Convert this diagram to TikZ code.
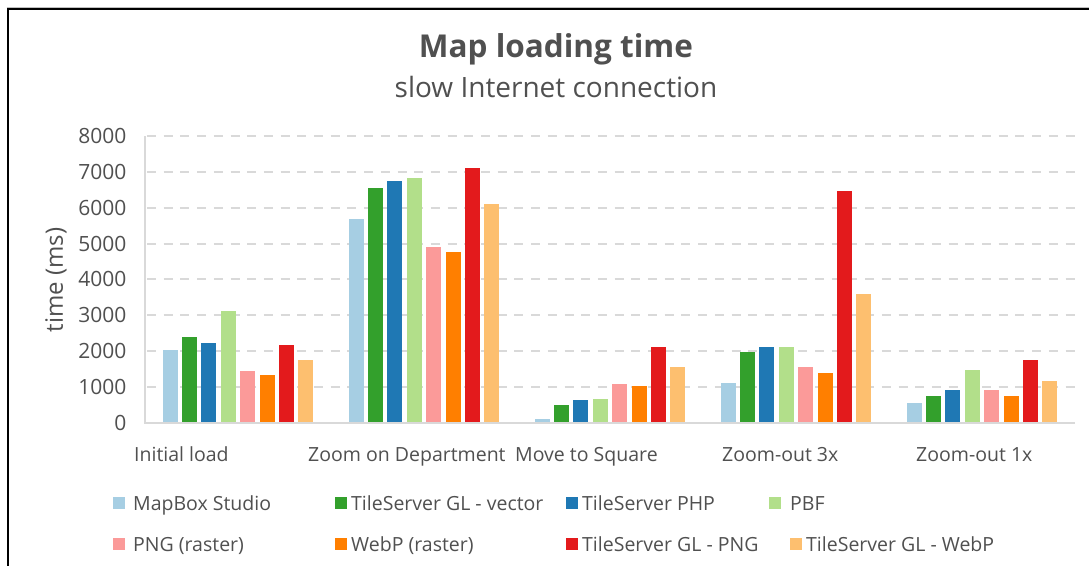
\documentclass[tikz,border=0pt]{standalone}
\usepackage{fontspec}
\setmainfont{Open Sans}
\definecolor{c0}{HTML}{A6CEE3}
\definecolor{c1}{HTML}{33A02C}
\definecolor{c2}{HTML}{1F78B4}
\definecolor{c3}{HTML}{B2DF8A}
\definecolor{c4}{HTML}{FB9A99}
\definecolor{c5}{HTML}{FF7F00}
\definecolor{c6}{HTML}{E31A1C}
\definecolor{c7}{HTML}{FDBF6F}
\definecolor{txtgray}{HTML}{505050}
\definecolor{gridgray}{HTML}{D9D9D9}
\begin{document}
\begin{tikzpicture}[x=1pt,y=-1pt,
  gridline/.style={draw=gridgray,line width=2pt,dash pattern=on 9pt off 7.7pt},
  axisline/.style={draw=gridgray,line width=2pt},
  ticklbl/.style={text=txtgray,font=\fontsize{21}{24}\selectfont,inner sep=0pt,anchor=east},
  catlbl/.style={text=txtgray,font=\fontsize{19.5}{22}\selectfont,inner sep=0pt,anchor=base west},
  legtxt/.style={text=txtgray,font=\fontsize{19.5}{22}\selectfont,inner sep=0pt,anchor=base west},
  legsq/.style={minimum size=12pt,inner sep=0pt,draw=none,anchor=north west},
  frameline/.style={draw=black,line width=2pt}]
\useasboundingbox (0,0) rectangle (1089,565);
\fill[white] (0,0) rectangle (1089,565);
% frame
\draw[draw=gray!50,line width=1pt] (6.5,7) -- (1090,7);
\draw[frameline] (7.5,566) -- (7.5,9) -- (1090,9);
% title
\node[text=txtgray,font=\bfseries\fontsize{31.5}{35}\selectfont,anchor=base,inner sep=0pt] (title) at (556,57) {Map loading time};
\node[text=txtgray,font=\fontsize{28}{32}\selectfont,anchor=base,inner sep=0pt] (subtitle) at (556,97) {slow Internet connection};
% grid
\foreach \k in {1,...,8} {
  \draw[gridline] (147,{422.7-\k*35.84}) -- (1075,{422.7-\k*35.84});
}
% bars
\foreach \vals [count=\k from 0] in {
  {2030,2380,2215,3110,1435,1330,2170,1750},
  {5690,6540,6745,6840,4895,4765,7115,6100},
  {95,495,630,660,1070,1035,2105,1565},
  {1100,1975,2105,2105,1565,1395,6475,3590},
  {560,735,905,1470,905,735,1750,1170}} {
  \foreach \v [count=\i from 0] in \vals {
    \fill[c\i] ({145+186*\k+17.5+19.4*\i},422.7) rectangle ++(15,{-\v*0.03584});
  }
}
% axes
\draw[axisline] (145,136) -- (145,422.7) -- (1075,422.7);
% tick labels
\node[ticklbl] (t0) at (126.5,422.7) {0};
\foreach \k in {1,...,8} {
  \node[ticklbl] (t\k) at (126.5,{422.7-\k*35.84}) {\k000};
}
\node[text=txtgray,font=\fontsize{24}{28}\selectfont,rotate=90,inner sep=0pt] (ytitle) at (56,280) {time (ms)};
% category labels
\node[catlbl] (cat1) at (134,461) {Initial load};
\node[catlbl] (cat2) at (308,461) {Zoom on Department};
\node[catlbl] (cat3) at (515,461) {Move to Square};
\node[catlbl] (cat4) at (722,461) {Zoom-out 3x};
\node[catlbl] (cat5) at (916,461) {Zoom-out 1x};
% legend
\node[legsq,fill=c0] (s0) at (113,497) {};
\node[legtxt] (l0) at (133,510) {MapBox Studio};
\node[legsq,fill=c1] (s1) at (335,497) {};
\node[legtxt] (l1) at (351,510) {TileServer GL - vector};
\node[legsq,fill=c2] (s2) at (566,497) {};
\node[legtxt] (l2) at (582,510) {TileServer PHP};
\node[legsq,fill=c3] (s3) at (769,497) {};
\node[legtxt] (l3) at (790,510) {PBF};
\node[legsq,fill=c4] (s4) at (113,537.5) {};
\node[legtxt] (l4) at (133,551) {PNG (raster)};
\node[legsq,fill=c5] (s5) at (335,537.5) {};
\node[legtxt] (l5) at (351,551) {WebP (raster)};
\node[legsq,fill=c6] (s6) at (566,537.5) {};
\node[legtxt] (l6) at (582,551) {TileServer GL - PNG};
\node[legsq,fill=c7] (s7) at (790,537.5) {};
\node[legtxt] (l7) at (806,551) {TileServer GL - WebP};
\end{tikzpicture}
\end{document}
